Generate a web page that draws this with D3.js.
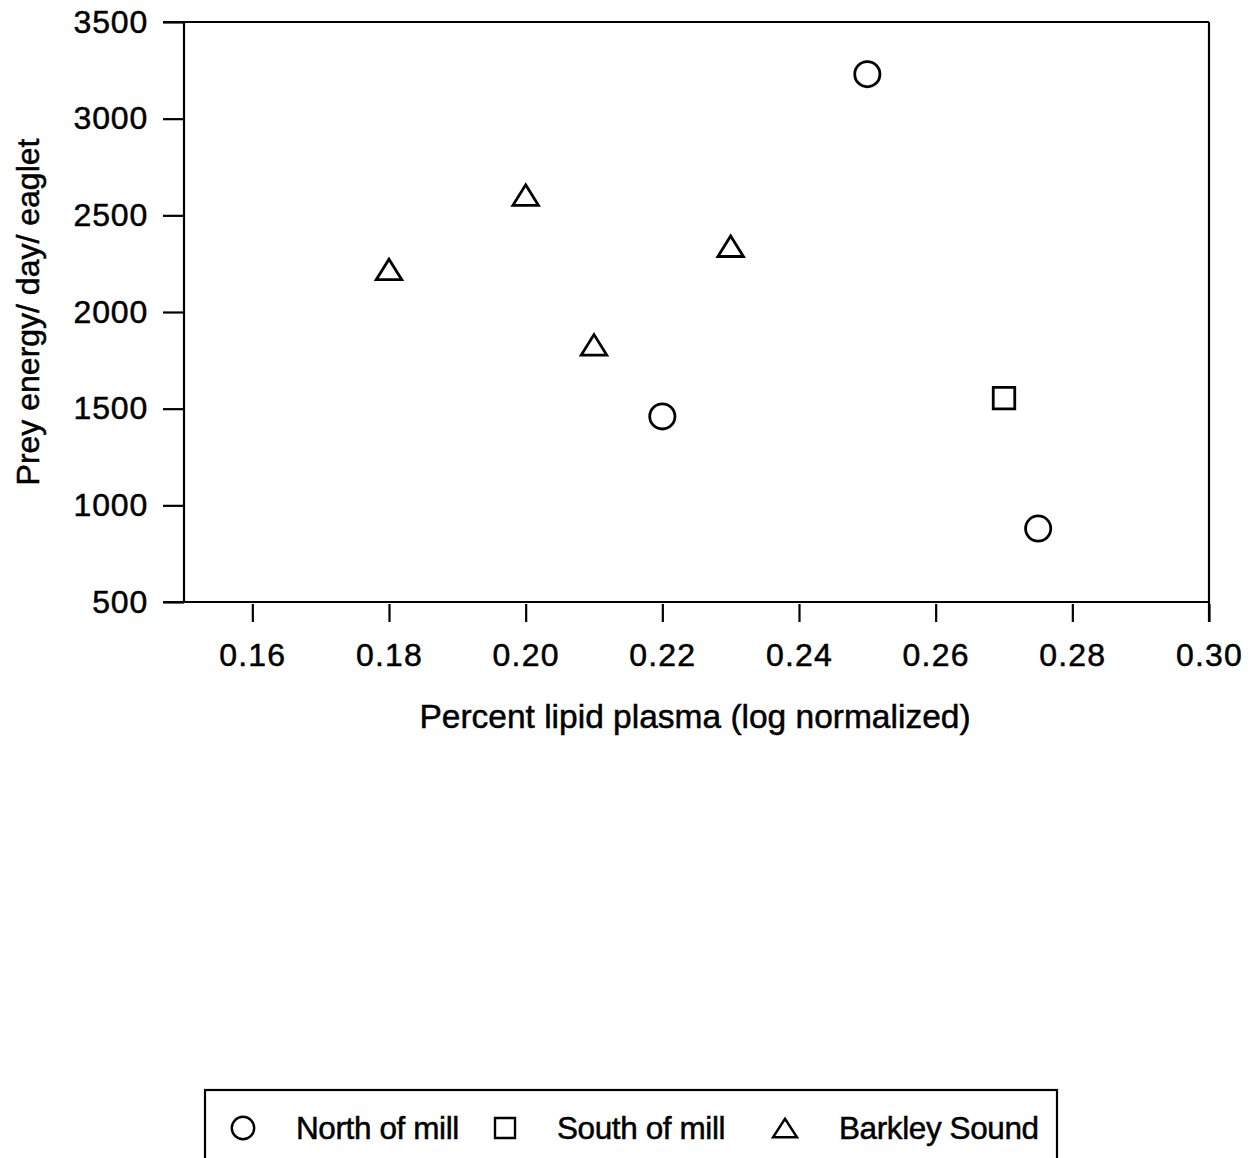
<!DOCTYPE html>
<html>
<head>
<meta charset="utf-8">
<script src="https://cdn.jsdelivr.net/npm/d3@7"></script>
<style>
  html, body { margin: 0; padding: 0; background: #fff; }
  svg { display: block; }
  text { font-family: Arial, "Liberation Sans", sans-serif; fill: #000; stroke: #000; stroke-width: 0.5px; }
</style>
</head>
<body>
<script>
// Axis ticks
const xTickValues = [0.16, 0.18, 0.20, 0.22, 0.24, 0.26, 0.28, 0.30];
const yTickValues = [500, 1000, 1500, 2000, 2500, 3000, 3500];

// Site groups: percent lipid plasma (log normalized) vs prey energy per day per eaglet
const northX = [0.22, 0.25, 0.275];
const northY = [1460, 3230, 880];
const southX = [0.27];
const southY = [1555];
const barkleyX = [0.18, 0.20, 0.21, 0.23];
const barkleyY = [2220, 2605, 1830, 2340];

const legendLabels = ["North of mill", "South of mill", "Barkley Sound"];

const W = 1255, H = 1158;
const plotL = 184, plotR = 1209, plotT = 22, plotB = 602;

const svg = d3.select("body").append("svg")
  .attr("width", W).attr("height", H);
svg.append("rect").attr("width", W).attr("height", H).attr("fill", "#fff");

const x = d3.scaleLinear().domain([0.15, 0.30]).range([plotL, plotR]);
const y = d3.scaleLinear().domain([500, 3500]).range([plotB, plotT]);

const ink = "#000";
const lw = 2.2;
const fontStack = "Arial, 'Liberation Sans', sans-serif";

// Frame: top and bottom lines run out to the y tick length, right edge drops to x tick length
const frame = svg.append("g").attr("stroke", ink).attr("stroke-width", lw).attr("fill", "none");
frame.append("line").attr("x1", plotL - 21).attr("x2", plotR).attr("y1", plotT).attr("y2", plotT);
frame.append("line").attr("x1", plotL - 21).attr("x2", plotR).attr("y1", plotB).attr("y2", plotB);
frame.append("line").attr("x1", plotL).attr("x2", plotL).attr("y1", plotT).attr("y2", plotB);
frame.append("line").attr("x1", plotR).attr("x2", plotR).attr("y1", plotT).attr("y2", plotB + 20);

// Y axis
const yAxis = svg.append("g")
  .attr("transform", `translate(${plotL},0)`)
  .call(d3.axisLeft(y).tickValues(yTickValues).tickSize(21).tickPadding(15).tickFormat(d3.format("d")));
yAxis.select(".domain").remove();
yAxis.selectAll("line").attr("stroke", ink).attr("stroke-width", lw);
yAxis.selectAll("text").attr("font-size", 32).attr("letter-spacing", 0.8).attr("font-family", fontStack);

// X axis: ticks hang just below the frame
const xAxis = svg.append("g")
  .attr("transform", `translate(0,${plotB + 2})`)
  .call(d3.axisBottom(x).tickValues(xTickValues).tickSize(18).tickPadding(21).tickFormat(d3.format(".2f")));
xAxis.select(".domain").remove();
xAxis.selectAll("line").attr("stroke", ink).attr("stroke-width", lw);
xAxis.selectAll("text").attr("font-size", 32).attr("letter-spacing", 1.2).attr("font-family", fontStack);

// Axis titles
svg.append("text")
  .attr("x", 695).attr("y", 728)
  .attr("text-anchor", "middle").attr("font-size", 33.5)
  .text("Percent lipid plasma (log normalized)");

svg.append("text")
  .attr("transform", `translate(39,${(plotT + plotB) / 2}) rotate(-90)`)
  .attr("text-anchor", "middle").attr("font-size", 32)
  .text("Prey energy/ day/ eaglet");

// Marker shapes, centred on their bounding box
function trianglePath(w, h) {
  return `M0,${-h / 2}L${w / 2},${h / 2}L${-w / 2},${h / 2}Z`;
}
function squarePath(s) {
  return `M${-s / 2},${-s / 2}H${s / 2}V${s / 2}H${-s / 2}Z`;
}
const mStroke = 2.8;

const pts = svg.append("g").attr("fill", "none").attr("stroke", ink).attr("stroke-width", mStroke);

pts.selectAll("circle.north").data(d3.zip(northX, northY)).join("circle")
  .attr("class", "north")
  .attr("cx", d => x(d[0])).attr("cy", d => y(d[1])).attr("r", 12.6);

pts.selectAll("path.south").data(d3.zip(southX, southY)).join("path")
  .attr("class", "south")
  .attr("transform", d => `translate(${x(d[0])},${y(d[1])})`)
  .attr("d", squarePath(21.5));

pts.selectAll("path.barkley").data(d3.zip(barkleyX, barkleyY)).join("path")
  .attr("class", "barkley")
  .attr("stroke-linejoin", "miter")
  .attr("transform", d => `translate(${x(d[0])},${y(d[1])})`)
  .attr("d", trianglePath(25.5, 20.5));

// Legend box
const lg = svg.append("g");
lg.append("rect")
  .attr("x", 205).attr("y", 1090).attr("width", 852).attr("height", 100)
  .attr("fill", "none").attr("stroke", ink).attr("stroke-width", lw);

const legendY = 1128;
const legendItems = [
  { mx: 243, tx: 296, draw: g => g.append("circle").attr("r", 11.2) },
  { mx: 505, tx: 557, draw: g => g.append("path").attr("d", squarePath(20)) },
  { mx: 785, tx: 839, draw: g => g.append("path").attr("d", trianglePath(24, 18.5)) }
];
legendItems.forEach((it, i) => {
  const g = lg.append("g")
    .attr("transform", `translate(${it.mx},${legendY})`)
    .attr("fill", "none").attr("stroke", ink).attr("stroke-width", 2.4);
  it.draw(g);
  lg.append("text")
    .attr("x", it.tx).attr("y", legendY + 11)
    .attr("font-size", 31.5).attr("letter-spacing", -0.4)
    .text(legendLabels[i]);
});
</script>
</body>
</html>
